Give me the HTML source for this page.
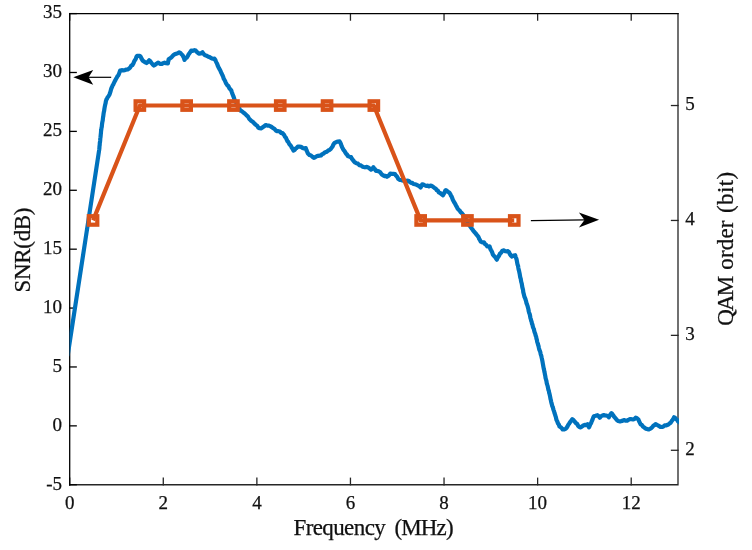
<!DOCTYPE html>
<html lang="en">
<head>
<meta charset="utf-8">
<title>SNR and QAM order versus frequency</title>
<style>
html,body{margin:0;padding:0;background:#fff;}
body{width:752px;height:550px;overflow:hidden;}
svg{display:block;}
svg text{font-family:"Liberation Serif",serif;fill:#111;stroke:#111;stroke-width:0.25px;}
.tick{font-size:19px;}
.lab{font-size:23px;}
</style>
</head>
<body>
<svg width="752" height="550" viewBox="0 0 752 550">
<rect x="0" y="0" width="752" height="550" fill="#ffffff"/>
<g stroke="#262626" stroke-width="1.3" fill="none" stroke-linecap="square">
<path d="M69.70 484.75 H678.00 V13.60"/>
<line x1="69.70" y1="484.75" x2="69.70" y2="478.25"/>
<line x1="69.70" y1="13.60" x2="69.70" y2="20.10"/>
<line x1="163.28" y1="484.75" x2="163.28" y2="478.25"/>
<line x1="163.28" y1="13.60" x2="163.28" y2="20.10"/>
<line x1="256.87" y1="484.75" x2="256.87" y2="478.25"/>
<line x1="256.87" y1="13.60" x2="256.87" y2="20.10"/>
<line x1="350.45" y1="484.75" x2="350.45" y2="478.25"/>
<line x1="350.45" y1="13.60" x2="350.45" y2="20.10"/>
<line x1="444.04" y1="484.75" x2="444.04" y2="478.25"/>
<line x1="444.04" y1="13.60" x2="444.04" y2="20.10"/>
<line x1="537.62" y1="484.75" x2="537.62" y2="478.25"/>
<line x1="537.62" y1="13.60" x2="537.62" y2="20.10"/>
<line x1="631.21" y1="484.75" x2="631.21" y2="478.25"/>
<line x1="631.21" y1="13.60" x2="631.21" y2="20.10"/>
<line x1="678.00" y1="450.28" x2="671.50" y2="450.28"/>
<line x1="678.00" y1="335.36" x2="671.50" y2="335.36"/>
<line x1="678.00" y1="220.45" x2="671.50" y2="220.45"/>
<line x1="678.00" y1="105.53" x2="671.50" y2="105.53"/>
</g>
<g stroke="#000" stroke-width="1.3" fill="none" stroke-linecap="square">
<path d="M69.70 484.75 V13.60 H678.00"/>
<line x1="69.70" y1="484.75" x2="76.20" y2="484.75"/>
<line x1="69.70" y1="425.86" x2="76.20" y2="425.86"/>
<line x1="69.70" y1="366.96" x2="76.20" y2="366.96"/>
<line x1="69.70" y1="308.07" x2="76.20" y2="308.07"/>
<line x1="69.70" y1="249.18" x2="76.20" y2="249.18"/>
<line x1="69.70" y1="190.28" x2="76.20" y2="190.28"/>
<line x1="69.70" y1="131.39" x2="76.20" y2="131.39"/>
<line x1="69.70" y1="72.49" x2="76.20" y2="72.49"/>
<line x1="69.70" y1="13.60" x2="76.20" y2="13.60"/>
</g>
<defs><clipPath id="box"><rect x="69.6" y="13.6" width="609.4" height="471.1"/></clipPath></defs>
<path d="M67.6 356.0 L85.4 240.0 L99.2 149.7 L99.4 148.0 L99.5 146.2 L99.7 145.2 L99.8 143.0 L100.0 142.0 L100.2 140.2 L100.3 138.3 L100.5 137.3 L100.7 135.2 L100.8 134.1 L101.0 132.1 L101.1 130.6 L101.3 129.5 L101.5 127.9 L101.8 126.7 L102.0 124.4 L102.2 122.9 L102.4 121.8 L102.7 120.6 L102.9 118.6 L103.1 116.9 L103.3 116.0 L103.6 113.4 L103.8 112.3 L104.1 111.1 L104.4 108.9 L104.7 107.2 L105.0 105.5 L105.3 104.2 L105.6 103.1 L105.9 101.2 L106.4 99.6 L107.0 98.8 L107.5 97.5 L108.5 96.2 L109.5 94.5 L110.0 92.9 L110.5 91.6 L111.0 89.5 L111.5 88.0 L112.0 87.0 L112.7 85.3 L113.3 84.5 L114.0 82.8 L114.7 81.3 L115.3 80.3 L116.0 78.8 L116.8 77.6 L117.5 76.2 L118.3 75.3 L118.9 74.1 L119.5 72.4 L120.1 70.6 L121.7 70.2 L123.4 70.3 L125.0 70.1 L126.4 69.6 L127.7 69.5 L129.1 68.6 L130.2 67.5 L131.3 65.7 L132.4 65.1 L133.5 63.2 L134.2 61.3 L134.9 60.2 L135.7 59.1 L136.4 57.0 L137.1 55.9 L138.4 55.9 L139.8 55.9 L140.7 56.7 L141.5 58.6 L142.3 60.0 L143.2 61.0 L144.8 62.1 L146.5 63.0 L147.8 62.1 L149.2 60.3 L150.4 61.4 L151.6 63.2 L152.7 64.4 L153.9 65.6 L155.3 64.7 L156.6 63.6 L158.0 62.6 L159.3 63.4 L160.6 64.0 L161.9 63.9 L163.2 63.2 L164.6 62.6 L166.2 63.2 L167.9 63.5 L168.1 61.6 L168.4 60.9 L168.6 59.3 L169.8 58.5 L170.9 57.8 L172.0 56.7 L173.2 55.3 L174.7 54.3 L176.2 53.7 L177.7 53.2 L179.2 52.3 L180.3 52.8 L181.5 54.3 L182.6 55.3 L183.2 56.5 L183.9 57.9 L184.5 59.9 L185.6 58.1 L186.8 57.5 L187.9 55.9 L188.7 54.2 L189.6 53.0 L190.4 51.8 L191.2 50.6 L192.8 50.8 L194.5 50.2 L195.7 50.6 L196.8 51.9 L198.0 52.9 L199.2 53.7 L200.8 53.4 L202.5 52.3 L203.4 53.7 L204.3 54.7 L205.2 55.3 L206.5 55.7 L207.8 56.4 L209.2 56.9 L210.5 57.7 L211.8 58.4 L213.2 58.8 L214.5 58.6 L215.2 59.6 L215.8 61.1 L216.5 62.6 L217.2 64.0 L217.8 65.8 L218.5 67.2 L219.2 68.6 L219.8 69.6 L220.4 70.7 L221.1 72.4 L221.8 73.7 L222.4 75.2 L223.1 76.7 L223.7 78.6 L224.4 79.8 L225.1 81.0 L225.7 82.6 L226.4 83.9 L227.4 85.4 L228.3 85.9 L229.3 88.1 L230.2 89.2 L231.2 90.2 L231.8 92.2 L232.3 93.7 L232.8 94.8 L233.4 96.4 L233.9 97.6 L234.5 99.6 L235.2 101.1 L235.9 101.9 L236.6 103.2 L237.3 104.8 L238.1 106.1 L238.8 107.7 L239.5 108.7 L240.2 110.6 L241.6 111.1 L243.0 112.2 L244.4 113.2 L245.8 114.6 L246.9 115.7 L248.0 116.6 L249.2 118.9 L250.3 119.8 L251.4 121.0 L252.5 121.6 L253.7 122.8 L254.8 123.9 L256.0 125.0 L257.1 125.7 L258.3 127.6 L259.4 128.2 L261.0 128.3 L262.6 127.4 L264.2 126.2 L265.8 125.0 L267.4 125.6 L269.0 125.7 L270.6 126.4 L272.2 127.4 L273.4 128.2 L274.6 129.0 L275.8 130.5 L277.0 131.1 L278.4 131.2 L279.8 131.5 L281.2 133.0 L282.6 133.0 L283.4 134.3 L284.2 135.1 L285.0 136.8 L285.8 137.5 L286.6 139.3 L287.4 141.1 L288.2 141.8 L289.1 143.7 L290.0 144.9 L290.9 145.9 L291.7 147.5 L292.6 148.8 L293.5 150.6 L294.6 149.9 L295.6 148.6 L296.7 147.9 L297.8 146.6 L299.4 146.7 L301.0 146.9 L302.6 147.9 L304.2 148.4 L305.8 148.2 L306.4 150.0 L307.0 151.3 L307.6 152.8 L308.2 153.8 L309.6 155.1 L311.0 155.5 L312.4 156.8 L313.8 157.8 L315.2 157.2 L316.7 156.3 L318.1 155.8 L319.6 155.6 L321.0 155.4 L322.3 154.1 L323.7 153.5 L325.0 152.2 L326.6 151.9 L328.2 150.5 L329.8 149.8 L330.8 148.9 L331.7 147.6 L332.7 146.2 L333.6 144.1 L334.6 142.9 L336.3 142.1 L337.9 141.6 L339.6 141.4 L340.2 142.5 L340.9 143.9 L341.5 145.8 L342.2 147.5 L342.8 148.5 L343.6 150.1 L344.5 151.0 L345.3 152.4 L346.1 153.8 L347.0 154.3 L347.8 156.0 L349.4 156.7 L351.0 157.1 L352.0 158.9 L353.0 160.1 L354.0 161.4 L355.0 162.4 L356.4 163.2 L357.9 163.6 L359.3 165.1 L360.8 165.4 L362.2 166.4 L363.6 166.9 L365.0 167.3 L366.4 166.9 L367.8 167.2 L369.4 168.3 L371.0 169.6 L372.2 168.9 L373.4 167.2 L374.2 168.7 L375.0 169.3 L375.8 170.9 L377.4 170.8 L379.0 171.5 L380.3 172.3 L381.7 174.4 L383.0 175.2 L384.3 176.1 L385.7 175.9 L387.0 176.8 L388.1 176.1 L389.1 175.2 L390.2 173.6 L391.8 173.9 L393.4 173.8 L395.0 174.1 L395.8 175.4 L396.6 176.1 L397.4 177.2 L398.2 178.9 L399.6 179.9 L401.0 180.0 L402.4 180.4 L403.8 180.8 L405.4 181.3 L407.0 180.7 L408.6 180.8 L409.8 182.0 L411.0 182.8 L412.2 182.9 L413.4 184.0 L415.0 184.3 L416.6 184.8 L418.2 185.6 L419.4 186.3 L420.6 187.5 L421.4 186.0 L422.2 184.3 L423.5 184.6 L424.9 185.3 L426.2 185.9 L427.6 185.5 L429.0 186.4 L430.4 185.7 L431.8 185.9 L433.1 186.8 L434.5 187.9 L435.8 188.8 L436.8 190.2 L437.8 190.7 L438.8 192.3 L439.8 192.8 L441.4 194.0 L443.0 195.2 L443.7 194.0 L444.4 192.7 L445.2 190.8 L445.9 190.1 L447.0 191.1 L448.2 191.9 L449.4 192.8 L450.5 194.4 L451.1 196.0 L451.7 196.7 L452.3 198.3 L452.9 199.9 L453.5 201.0 L454.3 202.5 L455.1 203.7 L455.9 205.3 L456.8 206.8 L457.6 208.5 L458.4 209.6 L459.5 210.4 L460.6 212.2 L461.8 213.2 L462.9 214.5 L464.0 216.0 L464.8 217.7 L465.6 218.8 L466.4 220.2 L467.2 221.8 L468.0 223.3 L468.8 224.2 L469.6 225.6 L470.6 227.0 L471.5 228.2 L472.5 229.5 L473.4 230.9 L474.4 232.0 L475.4 233.1 L476.4 234.4 L477.4 235.6 L478.4 236.8 L479.2 238.9 L480.0 240.2 L480.8 241.6 L482.4 242.4 L484.0 242.4 L485.1 244.2 L486.1 244.8 L487.2 246.4 L488.4 246.5 L489.6 246.4 L490.2 248.5 L490.9 250.0 L491.5 250.8 L492.2 252.4 L492.8 254.4 L493.8 255.7 L494.8 256.6 L495.8 258.1 L496.8 259.7 L497.6 257.7 L498.4 256.8 L499.2 255.4 L500.0 253.6 L501.2 252.6 L502.4 250.7 L503.8 250.4 L505.2 251.2 L506.6 251.3 L508.0 251.2 L509.0 252.1 L510.0 254.3 L511.0 255.7 L512.0 256.5 L513.6 255.5 L515.2 255.2 L515.7 257.1 L516.1 258.0 L516.6 259.5 L516.9 261.1 L517.3 263.3 L517.6 264.8 L518.0 265.6 L518.3 267.6 L518.6 269.3 L519.0 270.7 L519.3 272.2 L519.7 274.0 L520.0 275.8 L520.3 277.6 L520.7 278.5 L521.0 280.7 L521.3 282.1 L521.7 283.3 L522.0 285.2 L522.3 287.1 L522.7 288.6 L523.0 289.7 L523.3 292.3 L523.7 293.7 L524.0 295.0 L524.5 297.1 L525.0 297.8 L525.5 299.5 L526.0 300.9 L526.5 303.3 L527.0 304.3 L527.5 305.8 L528.0 307.8 L528.4 309.3 L528.8 311.5 L529.2 313.0 L529.6 313.9 L530.0 315.4 L530.4 317.9 L530.8 319.1 L531.2 320.8 L531.6 321.7 L532.0 323.8 L532.5 324.8 L532.9 326.9 L533.4 328.1 L533.9 329.2 L534.4 331.6 L534.8 332.7 L535.3 334.0 L535.7 335.8 L536.1 336.5 L536.5 338.9 L536.8 339.5 L537.2 341.9 L537.6 343.0 L538.0 344.5 L538.5 346.0 L538.9 347.9 L539.4 349.9 L539.8 350.7 L540.3 352.2 L540.7 354.2 L541.2 355.5 L541.6 357.4 L541.9 358.6 L542.2 360.2 L542.5 361.7 L542.8 363.5 L543.1 365.2 L543.4 366.8 L543.8 368.9 L544.1 370.0 L544.4 371.8 L544.7 373.0 L545.0 374.8 L545.3 376.1 L545.6 378.2 L546.0 379.5 L546.4 380.9 L546.8 383.3 L547.2 384.7 L547.6 385.9 L548.0 387.8 L548.4 389.9 L548.8 390.6 L549.2 393.0 L549.6 394.2 L549.9 395.6 L550.2 397.1 L550.5 398.9 L550.8 399.9 L551.1 401.5 L551.4 402.9 L551.9 404.5 L552.3 406.3 L552.8 407.0 L553.2 408.9 L553.6 410.2 L554.1 411.4 L554.5 413.0 L554.9 414.2 L555.3 415.5 L555.7 416.6 L556.1 418.2 L556.5 420.0 L557.2 421.2 L558.0 423.5 L558.8 424.6 L559.5 426.5 L560.6 427.1 L561.6 428.0 L562.7 429.5 L564.3 429.4 L565.9 428.6 L566.7 427.8 L567.5 426.4 L568.3 424.8 L569.1 423.8 L569.9 422.4 L570.7 421.3 L571.5 420.3 L572.3 419.2 L573.6 420.2 L574.8 421.8 L576.1 423.2 L577.2 424.0 L578.2 425.9 L579.3 426.9 L580.4 427.5 L581.8 426.7 L583.3 425.5 L584.7 424.9 L586.0 425.1 L587.4 424.3 L588.2 425.6 L589.0 427.3 L589.7 425.8 L590.4 424.0 L591.1 423.2 L591.6 421.7 L592.2 420.4 L592.7 419.1 L593.3 417.4 L593.8 416.3 L595.6 415.8 L597.5 415.2 L598.6 415.9 L599.7 417.7 L601.0 416.3 L602.4 415.5 L603.8 415.1 L605.3 415.5 L606.7 415.7 L607.8 416.0 L608.8 417.3 L609.7 415.4 L610.6 414.3 L611.5 413.1 L612.5 414.2 L613.5 415.9 L614.5 417.2 L615.7 418.5 L616.8 419.9 L618.0 420.9 L619.4 421.3 L620.7 421.3 L622.3 420.9 L623.9 420.0 L625.5 420.7 L627.2 420.6 L628.5 419.8 L629.8 419.2 L631.5 419.2 L633.1 419.5 L634.4 419.1 L635.7 417.7 L637.0 418.2 L638.4 419.5 L639.1 421.3 L639.9 422.9 L640.6 424.3 L641.8 424.9 L643.1 426.8 L644.3 427.5 L645.7 428.6 L647.2 429.0 L648.6 429.5 L649.9 428.9 L651.1 428.2 L652.4 427.0 L653.5 425.6 L654.5 425.1 L655.6 424.1 L657.2 425.0 L658.8 425.9 L660.4 426.8 L662.0 427.0 L663.4 426.5 L664.7 425.4 L666.5 425.3 L668.4 424.5 L669.5 423.5 L670.6 422.7 L671.7 421.1 L672.5 420.0 L673.3 418.8 L674.1 417.3 L675.3 418.1 L676.5 419.5 L677.3 420.0 L678.1 421.6 L679.3 422.1 L680.5 423.5" fill="none" stroke="#0072BD" stroke-width="4.2" stroke-linejoin="round" stroke-linecap="butt" clip-path="url(#box)"/>
<polyline points="93.1,220.4 139.9,105.5 186.7,105.5 233.5,105.5 280.3,105.5 327.1,105.5 373.8,105.5 420.6,220.4 467.4,220.4 514.2,220.4" fill="none" stroke="#D95319" stroke-width="4.2" stroke-linejoin="round"/>
<rect x="88.8" y="216.2" width="8.5" height="8.5" fill="none" stroke="#D95319" stroke-width="4.2"/>
<rect x="135.6" y="101.3" width="8.5" height="8.5" fill="none" stroke="#D95319" stroke-width="4.2"/>
<rect x="182.4" y="101.3" width="8.5" height="8.5" fill="none" stroke="#D95319" stroke-width="4.2"/>
<rect x="229.2" y="101.3" width="8.5" height="8.5" fill="none" stroke="#D95319" stroke-width="4.2"/>
<rect x="276.0" y="101.3" width="8.5" height="8.5" fill="none" stroke="#D95319" stroke-width="4.2"/>
<rect x="322.8" y="101.3" width="8.5" height="8.5" fill="none" stroke="#D95319" stroke-width="4.2"/>
<rect x="369.6" y="101.3" width="8.5" height="8.5" fill="none" stroke="#D95319" stroke-width="4.2"/>
<rect x="416.4" y="216.2" width="8.5" height="8.5" fill="none" stroke="#D95319" stroke-width="4.2"/>
<rect x="463.2" y="216.2" width="8.5" height="8.5" fill="none" stroke="#D95319" stroke-width="4.2"/>
<rect x="510.0" y="216.2" width="8.5" height="8.5" fill="none" stroke="#D95319" stroke-width="4.2"/>
<text class="tick" x="69.7" y="508.9" text-anchor="middle">0</text>
<text class="tick" x="163.3" y="508.9" text-anchor="middle">2</text>
<text class="tick" x="256.9" y="508.9" text-anchor="middle">4</text>
<text class="tick" x="350.5" y="508.9" text-anchor="middle">6</text>
<text class="tick" x="444.0" y="508.9" text-anchor="middle">8</text>
<text class="tick" x="537.6" y="508.9" text-anchor="middle">10</text>
<text class="tick" x="631.2" y="508.9" text-anchor="middle">12</text>
<text class="tick" x="62.1" y="489.5" text-anchor="end">-5</text>
<text class="tick" x="62.1" y="430.6" text-anchor="end">0</text>
<text class="tick" x="62.1" y="371.7" text-anchor="end">5</text>
<text class="tick" x="62.1" y="312.8" text-anchor="end">10</text>
<text class="tick" x="62.1" y="253.9" text-anchor="end">15</text>
<text class="tick" x="62.1" y="195.0" text-anchor="end">20</text>
<text class="tick" x="62.1" y="136.1" text-anchor="end">25</text>
<text class="tick" x="62.1" y="77.2" text-anchor="end">30</text>
<text class="tick" x="62.1" y="18.4" text-anchor="end">35</text>
<text class="tick" x="685.3" y="455.0" text-anchor="start">2</text>
<text class="tick" x="685.3" y="340.1" text-anchor="start">3</text>
<text class="tick" x="685.3" y="225.2" text-anchor="start">4</text>
<text class="tick" x="685.3" y="110.3" text-anchor="start">5</text>
<text class="lab" y="534.8"><tspan x="293.44" textLength="92.32">Frequency</tspan><tspan> </tspan><tspan x="394.49" textLength="59.13">(MHz)</tspan></text>
<text class="lab" transform="translate(30.4 0) rotate(-90)" y="0"><tspan x="-292.44" textLength="84.97">SNR(dB)</tspan></text>
<text class="lab" transform="translate(733.2 0) rotate(-90)" y="0"><tspan x="-325.84" textLength="50.14">QAM</tspan><tspan> </tspan><tspan x="-269.68" textLength="49.22">order</tspan><tspan> </tspan><tspan x="-212.91" textLength="41.00">(bit)</tspan></text>
<g stroke="#000" stroke-width="1.2" fill="#000">
<line x1="111.2" y1="77.3" x2="88" y2="77.3"/>
<path d="M73.3 77.3 L93.2 70 L88.6 77.3 L93.2 84.8 Z" stroke="none"/>
<line x1="530.9" y1="220.7" x2="585" y2="219.9"/>
<path d="M599.1 219.7 L578.9 212.6 L584.5 220 L578.9 227.6 Z" stroke="none"/>
</g>
</svg>
</body>
</html>
